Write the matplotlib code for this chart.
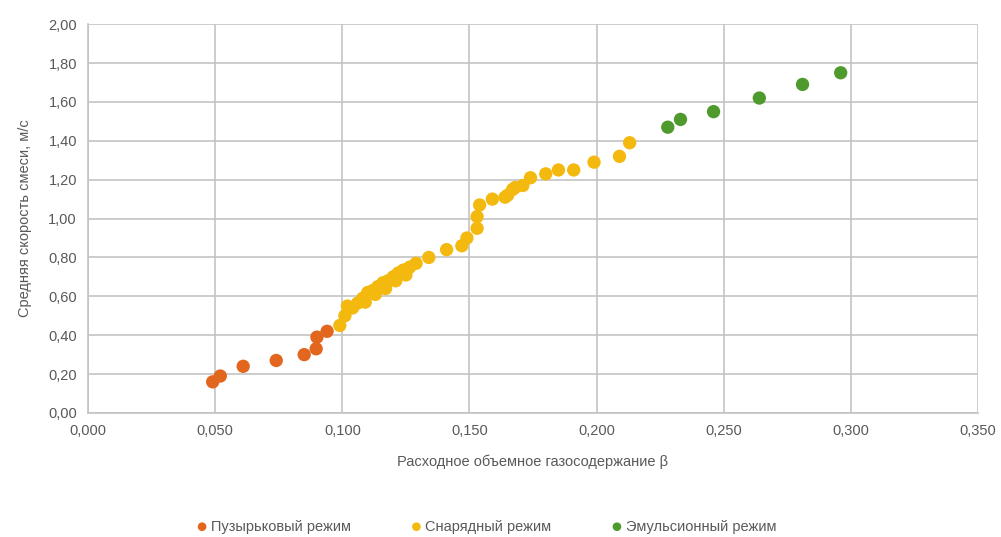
import matplotlib

matplotlib.use("Agg")
import matplotlib.pyplot as plt
from matplotlib.ticker import FuncFormatter

plt.rcParams["font.family"] = ["Liberation Sans", "DejaVu Sans"]

# bubbly regime
bubble_x = [0.049, 0.052, 0.061, 0.074, 0.085, 0.0897, 0.090, 0.094]
bubble_y = [0.16, 0.19, 0.24, 0.27, 0.30, 0.33, 0.39, 0.42]

# slug regime
slug_x = [0.099, 0.101, 0.102, 0.104, 0.106, 0.108, 0.109, 0.110, 0.112, 0.113,
          0.114, 0.116, 0.117, 0.118, 0.120, 0.121, 0.122, 0.124, 0.125, 0.1265,
          0.129, 0.134, 0.141, 0.147, 0.149, 0.153, 0.153, 0.154, 0.159, 0.164,
          0.165, 0.167, 0.168, 0.171, 0.174, 0.180, 0.185, 0.191, 0.199, 0.209,
          0.213]
slug_y = [0.45, 0.50, 0.55, 0.54, 0.565, 0.59, 0.57, 0.62, 0.63, 0.61,
          0.65, 0.67, 0.64, 0.68, 0.70, 0.68, 0.72, 0.735, 0.71, 0.75,
          0.77, 0.80, 0.84, 0.86, 0.90, 0.95, 1.01, 1.07, 1.10, 1.11,
          1.12, 1.15, 1.16, 1.17, 1.21, 1.23, 1.25, 1.25, 1.29, 1.32,
          1.39]

# emulsion regime
emul_x = [0.228, 0.233, 0.246, 0.264, 0.281, 0.296]
emul_y = [1.47, 1.51, 1.55, 1.62, 1.69, 1.75]

COLORS = ["#E2661E", "#F4B90F", "#4F9A2C"]
LABELS = ["Пузырьковый режим", "Снарядный режим", "Эмульсионный режим"]
TEXT = "#595959"
GRID = "#c3c3c3"

fig = plt.figure(figsize=(10.01, 5.37), dpi=100)
ax = fig.add_axes([0.088, 0.231, 0.889, 0.724])

for xs, ys, c, lab in zip([bubble_x, slug_x, emul_x], [bubble_y, slug_y, emul_y], COLORS, LABELS):
    ax.scatter(xs, ys, s=92, color=c, label=lab, zorder=3, edgecolors="none")

ax.set_xlim(0, 0.35)
ax.set_ylim(0, 2.0)
ax.set_xticks([i * 0.05 for i in range(8)])
ax.set_yticks([i * 0.2 for i in range(11)])
ax.xaxis.set_major_formatter(FuncFormatter(lambda v, p: f"{v:.3f}".replace(".", ",")))
ax.yaxis.set_major_formatter(FuncFormatter(lambda v, p: f"{v:.2f}".replace(".", ",")))
ax.grid(True, color=GRID, lw=1.2, zorder=0)
ax.set_axisbelow(True)
for side in ["top", "right"]:
    ax.spines[side].set_visible(False)
for side in ["left", "bottom"]:
    ax.spines[side].set_color(GRID)
    ax.spines[side].set_linewidth(1.2)
ax.tick_params(length=0, labelsize=10.5, colors=TEXT, pad=8)

ax.set_xlabel("Расходное объемное газосодержание β", fontsize=10.5, color=TEXT, labelpad=12)
ax.set_ylabel("Средняя скорость смеси, м/с", fontsize=10.5, color=TEXT, labelpad=12)

fig.legend(loc="lower center", bbox_to_anchor=(0.485, -0.018), ncol=3, frameon=False,
           fontsize=10.5, labelcolor=TEXT, markerscale=0.65, handletextpad=0.1,
           columnspacing=4.0, handlelength=1.0)

fig.savefig("out.png", dpi=100)
